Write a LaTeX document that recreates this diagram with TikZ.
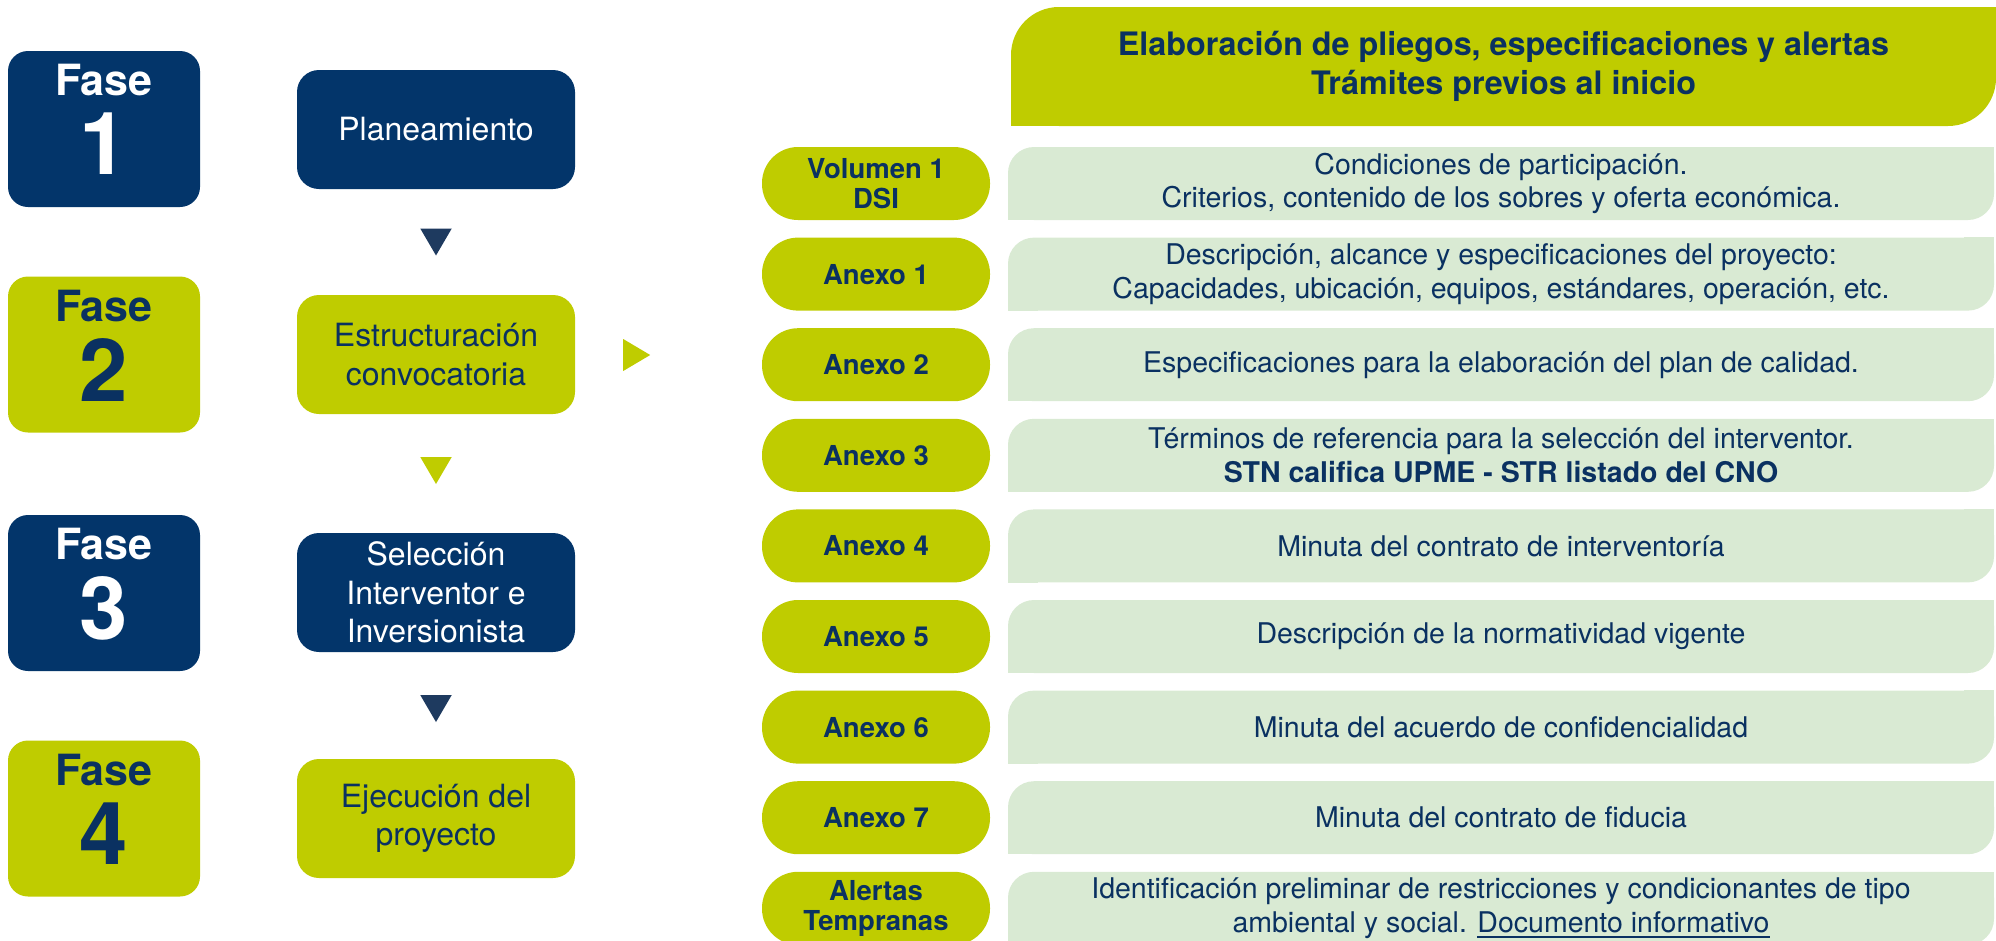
\documentclass[tikz,border=0pt]{standalone}
\usepackage{fontspec}
\setmainfont{TeX Gyre Heros}
\usetikzlibrary{calc}
\definecolor{navy}{HTML}{03356A}
\definecolor{lime}{HTML}{BFCC00}
\definecolor{lgreen}{HTML}{D9EAD3}
\definecolor{trinavy}{HTML}{1E3A5F}
\definecolor{txtnavy}{HTML}{0A3161}
\newcommand\myul[1]{\setbox0\hbox{#1}\rlap{\rule[-5.5pt]{\wd0}{1.6pt}}\box0}
\begin{document}
\begin{tikzpicture}[x=1pt,y=-1pt,
  fase/.style={rounded corners=20, minimum width=192, minimum height=156, inner sep=0},
  fasetxt/.style={inner sep=0, font=\bfseries\fontsize{43}{43}\selectfont},
  fasenum/.style={inner sep=0, font=\bfseries\fontsize{87}{87}\selectfont},
  stepbox/.style={rounded corners=22, minimum width=278, minimum height=119, inner sep=0, align=center, font=\fontsize{32}{38.5}\selectfont},
  pill/.style={fill=lime, rounded corners=36, minimum width=228, minimum height=73, inner sep=0, align=center, text=txtnavy, font=\bfseries\fontsize{27.5}{29.5}\selectfont},
  desc/.style={fill=lgreen, rounded corners=26, minimum width=986, minimum height=73, inner sep=0, align=center, text=txtnavy, font=\fontsize{28.5}{33.5}\selectfont},
  hdrbox/.style={fill=lime, rounded corners=48, minimum width=985, minimum height=119, inner sep=0, align=center, text=txtnavy, font=\bfseries\fontsize{32.3}{39}\selectfont},
  downtri/.style={fill=#1},
]
\useasboundingbox (0,0) rectangle (1996,940);

% Fases
\node[fase, fill=navy] (f1) at (104,129) {};
\node[fasetxt, text=white] (f1a) at ($(f1.center)+(0,-49)$) {Fase};
\node[fasenum, text=white] (f1b) at ($(f1.center)+(0,15)$) {1};
\node[fase, fill=lime] (f2) at (104,354.5) {};
\node[fasetxt, text=txtnavy] (f2a) at ($(f2.center)+(0,-48)$) {Fase};
\node[fasenum, text=txtnavy] (f2b) at ($(f2.center)+(0,15.5)$) {2};
\node[fase, fill=navy] (f3) at (104,593) {};
\node[fasetxt, text=white] (f3a) at ($(f3.center)+(0,-49)$) {Fase};
\node[fasenum, text=white] (f3b) at ($(f3.center)+(0,15)$) {3};
\node[fase, fill=lime] (f4) at (104,818.5) {};
\node[fasetxt, text=txtnavy] (f4a) at ($(f4.center)+(0,-48)$) {Fase};
\node[fasenum, text=txtnavy] (f4b) at ($(f4.center)+(0,15.5)$) {4};

% Steps
\node[stepbox, fill=navy, text=white] (s1) at (436,129.5) {Planeamiento};
\node[stepbox, fill=lime, text=txtnavy] (s2) at (436,354.5) {Estructuración\\convocatoria};
\node[stepbox, fill=navy, text=white] (s3) at (436,592.5) {Selección\\Interventor e\\Inversionista};
\node[stepbox, fill=lime, text=txtnavy] (s4) at (436,818.5) {Ejecución del\\proyecto};

% Down triangles
\coordinate (m1) at ($(s1.south)!0.5!(s2.north)$);
\coordinate (m2) at ($(s2.south)!0.5!(s3.north)+(0,-3)$);
\coordinate (m3) at ($(s3.south)!0.5!(s4.north)+(0,3)$);
\fill[downtri=trinavy] ($(m1)+(-15.75,-13.5)$) -- ($(m1)+(15.75,-13.5)$) -- ($(m1)+(0,13.5)$) -- cycle;
\fill[downtri=lime] ($(m2)+(-15.75,-13.5)$) -- ($(m2)+(15.75,-13.5)$) -- ($(m2)+(0,13.5)$) -- cycle;
\fill[downtri=trinavy] ($(m3)+(-15.75,-13.5)$) -- ($(m3)+(15.75,-13.5)$) -- ($(m3)+(0,13.5)$) -- cycle;

% Right triangle
\coordinate (rt) at ($(s2.east)+(48,0.5)$);
\fill[lime] ($(rt)+(0,-16)$) -- ($(rt)+(27,0)$) -- ($(rt)+(0,16)$) -- cycle;

% Header
\node[hdrbox] (hdr) at (1503.5,66.5) {Elaboración de pliegos, especificaciones y alertas\\Trámites previos al inicio};
\fill[lime] (hdr.north east) rectangle ++(-60,60);
\fill[lime] (hdr.south west) rectangle ++(60,-60);

% Rows
\node[pill] (p0) at (876,183.5) {Volumen 1\\DSI};
\node[desc] (d0) at (1501,183.5) {Condiciones de participación.\\Criterios, contenido de los sobres y oferta económica.};
\node[pill] (p1) at (876,274.1) {Anexo 1};
\node[desc] (d1) at (1501,274.1) {Descripción, alcance y especificaciones del proyecto:\\Capacidades, ubicación, equipos, estándares, operación, etc.};
\node[pill] (p2) at (876,364.7) {Anexo 2};
\node[desc] (d2) at (1501,364.7) {Especificaciones para la elaboración del plan de calidad.};
\node[pill] (p3) at (876,455.3) {Anexo 3};
\node[desc] (d3) at (1501,455.3) {Términos de referencia para la selección del interventor.\\\textbf{STN califica UPME - STR listado del CNO}};
\node[pill] (p4) at (876,545.9) {Anexo 4};
\node[desc] (d4) at (1501,545.9) {Minuta del contrato de interventoría};
\node[pill] (p5) at (876,636.5) {Anexo 5};
\node[desc] (d5) at (1501,636.5) {Descripción de la normatividad vigente};
\node[pill] (p6) at (876,727.1) {Anexo 6};
\node[desc] (d6) at (1501,727.1) {Minuta del acuerdo de confidencialidad};
\node[pill] (p7) at (876,817.7) {Anexo 7};
\node[desc] (d7) at (1501,817.7) {Minuta del contrato de fiducia};
\node[pill] (p8) at (876,908.3) {Alertas\\Tempranas};
\node[desc] (d8) at (1501,908.3) {Identificación preliminar de restricciones y condicionantes de tipo\\ambiental y social. \myul{Documento informativo}};

\foreach \k in {0,...,8}{
  \fill[lgreen] (d\k.north east) rectangle ++(-30,30);
  \fill[lgreen] (d\k.south west) rectangle ++(30,-30);
}
\end{tikzpicture}
\end{document}
